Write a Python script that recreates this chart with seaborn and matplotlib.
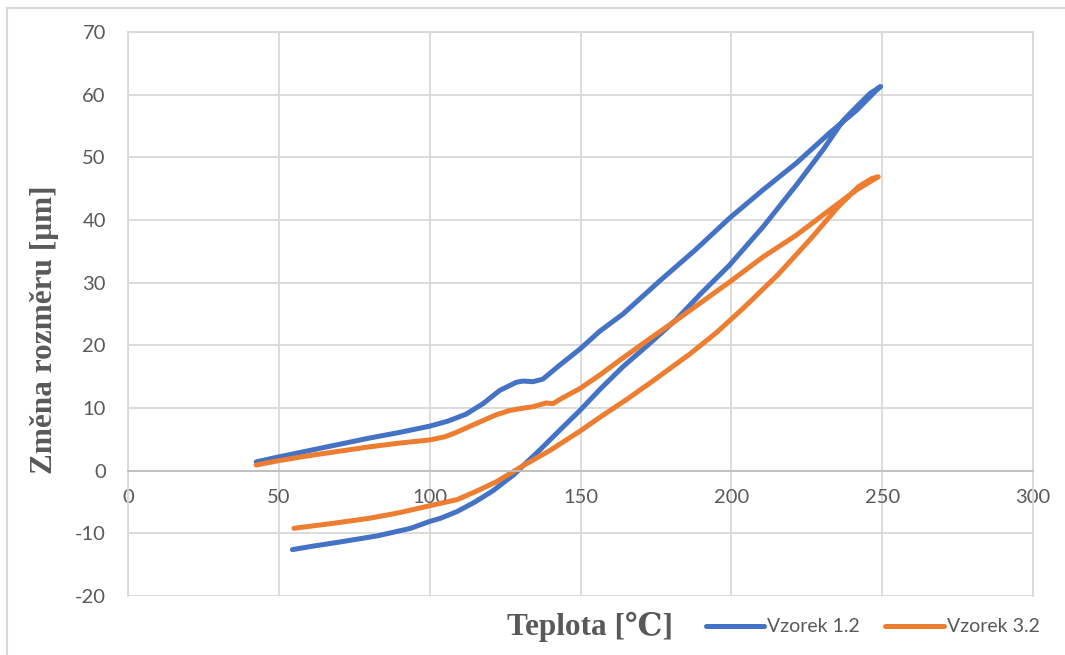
import matplotlib
matplotlib.use("Agg")
import matplotlib.pyplot as plt
import matplotlib.patches as mpatches
import seaborn as sns
import pandas as pd

# ---- data ----
series_names = ["Vzorek 1.2", "Vzorek 3.2"]

# Vzorek 1.2: heating branch then cooling branch
v12_x = [42.5, 50, 60, 70, 80, 90, 100, 106, 112, 117.7, 123.2, 128.7, 131, 134.2, 137.5,
         143, 149.8, 156.5, 164.1, 176.3, 188, 199.4, 210.5, 221.6, 232.6, 241.5, 248.7, 249.5,
         246, 242.6, 237.1, 230.4, 221.6, 210.5, 199.4, 190, 181.5, 172, 164.1, 156.5, 149.8,
         143, 136.5, 131, 128, 121, 115, 109.2, 103.6, 100, 93.7, 82.7, 70, 60.6, 54.5]
v12_y = [1.4, 2.2, 3.2, 4.2, 5.2, 6.1, 7.1, 7.9, 9.0, 10.7, 12.8, 14.1, 14.3, 14.2, 14.6,
         16.8, 19.4, 22.3, 25.0, 30.3, 35.2, 40.3, 44.8, 49.1, 53.9, 57.5, 61.0, 61.3,
         60.2, 58.6, 55.9, 51.2, 45.6, 38.9, 32.8, 28.3, 24.0, 19.9, 16.6, 13.0, 9.6,
         6.4, 3.3, 0.8, -0.6, -3.2, -5.0, -6.5, -7.6, -8.1, -9.2, -10.4, -11.4, -12.1, -12.6]

# Vzorek 3.2: heating branch then cooling branch
v32_x = [42.5, 50, 60, 70, 80, 90, 100, 105, 108.8, 113, 117.7, 122, 126.5, 130, 134.2,
         138.6, 140.9, 144, 149.8, 156.5, 164.1, 172.8, 182.9, 191, 199.4, 210.5, 221.6,
         232.6, 241.5, 248.7,
         246.5, 242.1, 235.4, 226.5, 215.5, 203.9, 195, 186.2, 172.8, 165.4, 157, 149.8,
         139.8, 131, 122, 115.4, 109.2, 100, 90, 80, 68, 55]
v32_y = [0.9, 1.6, 2.4, 3.1, 3.8, 4.4, 4.9, 5.4, 6.1, 7.0, 8.0, 8.9, 9.6, 9.9, 10.2,
         10.8, 10.7, 11.6, 13.1, 15.3, 18.0, 21.0, 24.4, 27.2, 30.1, 34.1, 37.6,
         41.6, 44.8, 46.9,
         46.6, 45.3, 42.1, 37.1, 31.3, 25.9, 22.0, 18.6, 13.9, 11.4, 8.7, 6.3,
         3.2, 0.8, -1.8, -3.3, -4.6, -5.6, -6.7, -7.6, -8.4, -9.2]

x_ticks = [0, 50, 100, 150, 200, 250, 300]
y_ticks = [-20, -10, 0, 10, 20, 30, 40, 50, 60, 70]
x_label = "Teplota [\u2103]"
y_label = "Změna rozměru [μm]"

colors = {"Vzorek 1.2": "#4472C4", "Vzorek 3.2": "#ED7D31"}

df = pd.concat([
    pd.DataFrame({"x": v12_x, "y": v12_y, "series": series_names[0]}),
    pd.DataFrame({"x": v32_x, "y": v32_y, "series": series_names[1]}),
], ignore_index=True)

sns.set_style("white")
plt.rcParams["font.family"] = ["Lato", "DejaVu Sans"]
plt.rcParams["axes.unicode_minus"] = False

fig = plt.figure(figsize=(10.65, 6.55), dpi=100)
ax = fig.add_axes([128 / 1065, 1 - 596 / 655, (1033 - 128) / 1065, (596 - 32) / 655])

sns.lineplot(data=df, x="x", y="y", hue="series", palette=colors, sort=False,
             estimator=None, linewidth=3.6, solid_capstyle="round",
             solid_joinstyle="round", ax=ax, legend=True)

ax.set_xlim(0, 300)
ax.set_ylim(-20, 70)
ax.set_xticks(x_ticks)
ax.set_yticks(y_ticks)
ax.grid(True, color="#d9d9d9", linewidth=1.3)
ax.set_axisbelow(True)

for s in ["left", "right", "top"]:
    ax.spines[s].set_color("#d9d9d9")
    ax.spines[s].set_linewidth(1.3)
ax.spines["bottom"].set_position(("data", 0))
ax.spines["bottom"].set_color("#bfbfbf")
ax.spines["bottom"].set_linewidth(1.3)

ax.tick_params(axis="both", length=0, labelsize=14.5, labelcolor="#595959")
ax.tick_params(axis="x", pad=13)
ax.tick_params(axis="y", pad=16)

serif = ["Liberation Serif", "DejaVu Serif", "Noto Sans CJK SC"]
ax.set_xlabel(x_label, fontsize=22.5, fontweight="bold", color="#595959", family=serif)
ax.xaxis.set_label_coords(0.51, -0.055)
ax.xaxis.label.set_va("center")
ax.set_ylabel(y_label, fontsize=22.5, fontweight="bold", color="#595959", family=serif)
ax.yaxis.set_label_coords(-0.092, 0.473)
ax.yaxis.label.set_va("center")

handles, labels = ax.get_legend_handles_labels()
ax.get_legend().remove()
fig.legend(handles, labels, loc="center left", bbox_to_anchor=(706 / 1065, 1 - 627 / 655),
           ncol=2, frameon=False, fontsize=14, labelcolor="#595959",
           handlelength=3.0, handletextpad=0.15, columnspacing=1.3, borderpad=0,
           borderaxespad=0)

fig.patches.append(mpatches.Rectangle((7 / 1065, -0.1), 1.2, 1.1 - 8 / 655,
                                      transform=fig.transFigure, fill=False,
                                      edgecolor="#d9d9d9", linewidth=1.5))

fig.savefig("out.png", dpi=100, facecolor="white")
